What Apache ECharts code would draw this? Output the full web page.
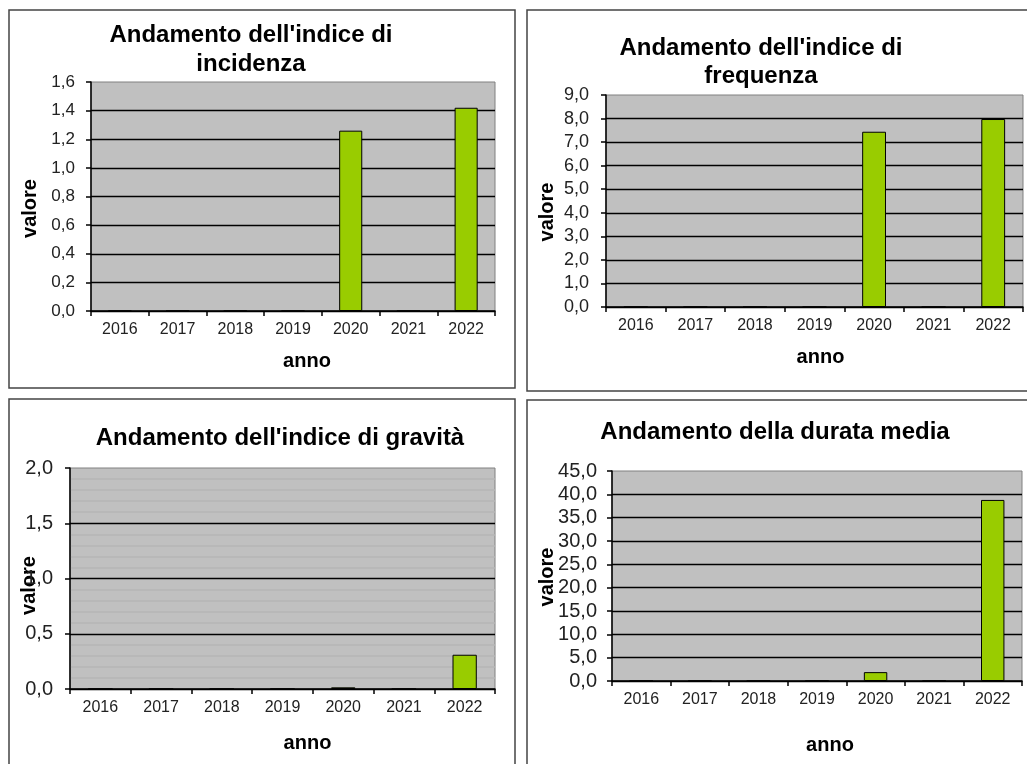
<!DOCTYPE html>
<html>
<head>
<meta charset="utf-8">
<script src="https://cdn.jsdelivr.net/npm/echarts@6/dist/echarts.min.js"></script>
<style>
html,body{margin:0;padding:0;background:#fff;}
#c{width:1027px;height:764px;}
</style>
</head>
<body>
<div id="c"></div>
<script>
const years = ['2016','2017','2018','2019','2020','2021','2022'];
const incidenza = [0, 0, 0, 0, 1.26, 0, 1.42];
const frequenza = [0, 0, 0, 0, 7.44, 0, 7.98];
const gravita = [0, 0, 0, 0, 0.015, 0, 0.31];
const durata = [0, 0, 0, 0, 1.9, 0, 38.8];
const titles = [
  "Andamento dell'indice di\nincidenza",
  "Andamento dell'indice di\nfrequenza",
  "Andamento dell'indice di gravità",
  "Andamento della durata media"
];
const yMax = [1.6, 9, 2, 45];
const yInterval = [0.2, 1, 0.5, 5];
const xName = 'anno';
const yName = 'valore';

const FONT = "'Liberation Sans', Arial, sans-serif";
const grids = [
  {left: 91, top: 82, width: 404, height: 229},
  {left: 606, top: 95, width: 417, height: 212},
  {left: 70, top: 468, width: 425, height: 221},
  {left: 612, top: 471, width: 410, height: 210}
];
const titlePos = [
  {left: 246, top: 16},
  {left: 756, top: 29},
  {left: 275, top: 419},
  {left: 770, top: 413}
];
const titleLineHeight = [29, 28, 29, 29];
const xNameGap = [40, 40, 44, 54];
const xNameShift = [28, 12, 50, 26];
const yNameGap = [51, 49, 31, 55];
const yNameShiftDown = [24, 22, 14, 2];
const yLabelSize = [17, 18, 20, 20];
const yLabelMargin = [16, 17, 17, 15];
const allData = [incidenza, frequenza, gravita, durata];

const fmt = v => v.toFixed(1).replace('.', ',');

const option = {
  animation: false,
  backgroundColor: '#fff',
  title: titles.map((t, i) => ({
    text: t,
    left: titlePos[i].left,
    top: titlePos[i].top,
    textAlign: 'center',
    textStyle: {fontFamily: FONT, fontSize: 24, fontWeight: 'bold', color: '#000', lineHeight: titleLineHeight[i]}
  })),
  graphic: [
    {type: 'rect', shape: {x: 9, y: 10, width: 506, height: 378}, style: {fill: 'none', stroke: '#444', lineWidth: 1.5}, silent: true},
    {type: 'rect', shape: {x: 527, y: 10, width: 520, height: 381}, style: {fill: 'none', stroke: '#444', lineWidth: 1.5}, silent: true},
    {type: 'rect', shape: {x: 9, y: 399, width: 506, height: 400}, style: {fill: 'none', stroke: '#444', lineWidth: 1.5}, silent: true},
    {type: 'rect', shape: {x: 527, y: 400, width: 520, height: 400}, style: {fill: 'none', stroke: '#444', lineWidth: 1.5}, silent: true}
  ],
  grid: grids.map(g => Object.assign({show: true, backgroundColor: '#C0C0C0', borderColor: '#808080', borderWidth: 1, containLabel: false}, g)),
  xAxis: grids.map((g, i) => ({
    type: 'category',
    gridIndex: i,
    data: years,
    boundaryGap: true,
    name: xName,
    nameLocation: 'middle',
    nameGap: xNameGap[i],
    nameMoveOverlap: false,
    nameTextStyle: {fontFamily: FONT, fontSize: 20, fontWeight: 'bold', color: '#000', padding: [0, 0, 0, xNameShift[i]]},
    axisLine: {show: true, lineStyle: {color: '#000', width: 1.5}},
    axisTick: {show: true, alignWithLabel: false, length: 5, lineStyle: {color: '#000', width: 1.5}},
    axisLabel: {fontFamily: FONT, fontSize: 16, color: '#222', margin: 11},
    splitLine: {show: false}
  })),
  yAxis: grids.map((g, i) => ({
    type: 'value',
    gridIndex: i,
    min: 0,
    max: yMax[i],
    interval: yInterval[i],
    name: yName,
    nameLocation: 'middle',
    nameRotate: 90,
    nameGap: yNameGap[i],
    nameMoveOverlap: false,
    nameTextStyle: {fontFamily: FONT, fontSize: 20, fontWeight: 'bold', color: '#000', padding: [0, yNameShiftDown[i], 0, 0]},
    axisLine: {show: true, lineStyle: {color: '#000', width: 1.5}},
    axisTick: {show: true, length: 5, lineStyle: {color: '#000', width: 1.5}},
    axisLabel: {fontFamily: FONT, fontSize: yLabelSize[i], color: '#222', margin: yLabelMargin[i], formatter: fmt},
    splitLine: {show: true, showMaxLine: false, lineStyle: {color: '#000', width: 1.3}},
    minorTick: {show: false, splitNumber: 5},
    minorSplitLine: i === 2 ? {show: true, lineStyle: {color: '#b5b5b5', width: 1.5}} : {show: false}
  })),
  series: allData.map((d, i) => ({
    type: 'bar',
    xAxisIndex: i,
    yAxisIndex: i,
    data: d,
    barWidth: '40%',
    itemStyle: {color: '#99CC00', borderColor: '#000', borderWidth: 1}
  }))
};

const chart = echarts.init(document.getElementById('c'), null, {renderer: 'canvas'});
chart.setOption(option);
</script>
</body>
</html>
